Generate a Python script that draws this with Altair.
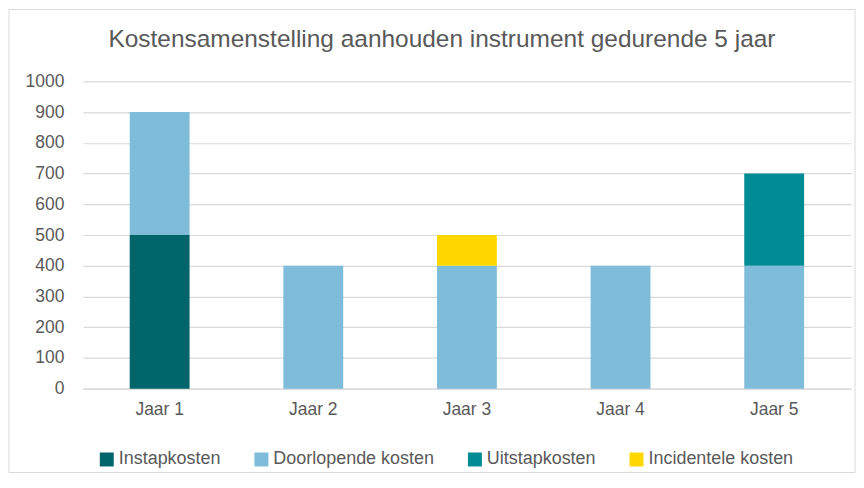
import altair as alt
import pandas as pd

years = ["Jaar 1", "Jaar 2", "Jaar 3", "Jaar 4", "Jaar 5"]
series = ["Instapkosten", "Doorlopende kosten", "Uitstapkosten", "Incidentele kosten"]
instap = [500, 0, 0, 0, 0]
doorlopend = [400, 400, 400, 400, 400]
uitstap = [0, 0, 0, 0, 300]
incidenteel = [0, 0, 100, 0, 0]
colors = ["#00656B", "#7FBCDA", "#008B95", "#FFD700"]
y_ticks = list(range(0, 1001, 100))

rows = []
for si, (name, vals) in enumerate(zip(series, [instap, doorlopend, uitstap, incidenteel])):
    for y, v in zip(years, vals):
        rows.append({"Jaar": y, "Serie": name, "Waarde": v, "ord": si})
df = pd.DataFrame(rows)

FONT = "Liberation Sans"
TXT = "#595959"
W, H = 770, 308

bars = alt.Chart(df).mark_bar(size=60).encode(
    x=alt.X("Jaar:N", sort=years, title=None,
            scale=alt.Scale(paddingInner=0.6, paddingOuter=0.3),
            axis=alt.Axis(labelAngle=0, labelFontSize=17.5, labelColor=TXT,
                          labelFont=FONT, ticks=False, domainColor="#d9d9d9",
                          domainWidth=1.2, labelPadding=12, grid=False)),
    y=alt.Y("Waarde:Q", stack="zero", title=None,
            scale=alt.Scale(domain=[0, 1000], nice=False),
            axis=alt.Axis(values=y_ticks, format="d", labelFontSize=17.5, labelColor=TXT,
                          labelFont=FONT, ticks=False, domain=False,
                          gridColor="#d9d9d9", gridWidth=1.2, labelPadding=19)),
    color=alt.Color("Serie:N", scale=alt.Scale(domain=series, range=colors),
                    legend=alt.Legend(title=None, orient="none", direction="horizontal",
                                      legendX=15, legendY=370,
                                      symbolType="square", symbolSize=196,
                                      symbolStrokeWidth=0,
                                      labelFontSize=18, labelColor=TXT,
                                      labelFont=FONT, columnPadding=31,
                                      labelOffset=3, labelLimit=400)),
    order=alt.Order("ord:Q", sort="ascending"),
)

border = alt.Chart(pd.DataFrame({"a": [0]})).mark_rect(
    fill="transparent", stroke="#d9d9d9", strokeWidth=1
).encode(x=alt.value(-74), x2=alt.value(W + 4), y=alt.value(-72), y2=alt.value(H + 84))

chart = alt.layer(border, bars).properties(
    width=W, height=H,
    title=alt.TitleParams("Kostensamenstelling aanhouden instrument gedurende 5 jaar",
                          fontSize=24.5, font=FONT, color=TXT, fontWeight="normal",
                          anchor="middle", offset=-44, dx=-25),
    padding=0,
).configure_view(stroke=None)

chart.save("out.html", embed_options={"renderer": "svg", "actions": False})
